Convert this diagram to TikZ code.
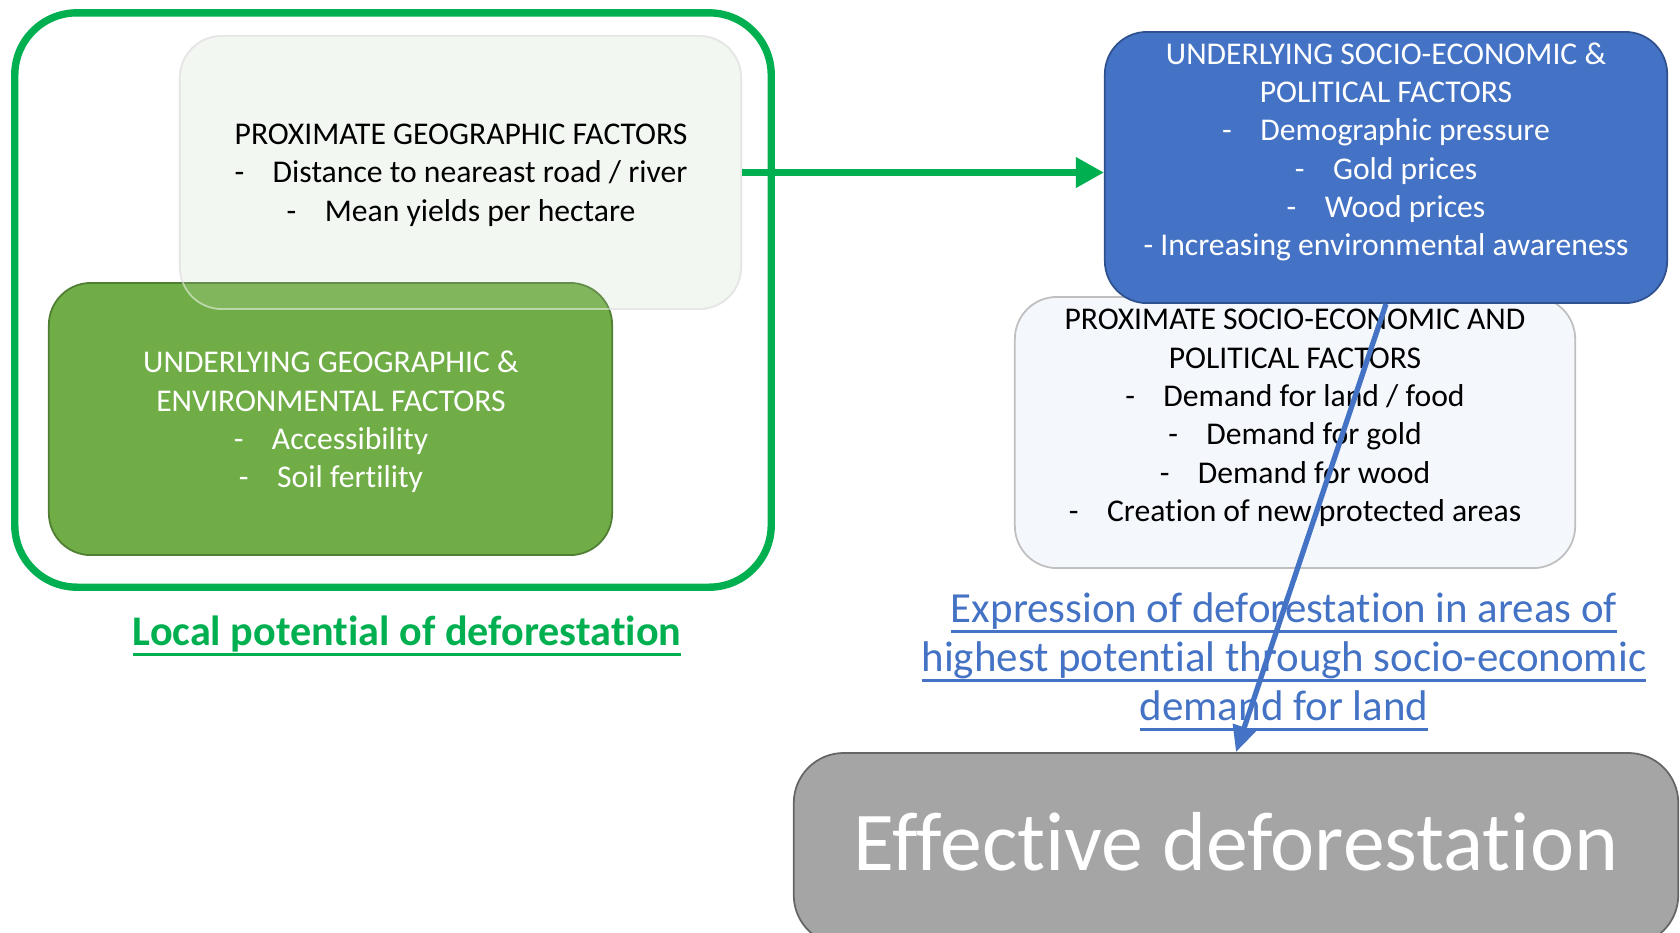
\documentclass[tikz,border=0pt]{standalone}
\usepackage{fontspec}
\setmainfont[Ligatures=NoCommon]{Carlito}
\usetikzlibrary{arrows.meta,positioning}

\definecolor{framegreen}{HTML}{00B050}
\definecolor{leafgreen}{HTML}{70AD47}
\definecolor{leafedge}{HTML}{507E32}
\definecolor{paleleaf}{HTML}{F2F6F0}
\definecolor{officeblue}{HTML}{4472C4}
\definecolor{blueedge}{HTML}{2F528F}
\definecolor{paleblue}{HTML}{F4F7FC}
\definecolor{effgray}{HTML}{A5A5A5}

% underline at a fixed depth
\newcommand{\undl}[1]{\setbox0\hbox{#1}\leavevmode\rlap{\rule[-0.25em]{\wd0}{0.07em}}\box0}

\begin{document}
\begin{tikzpicture}[
x=0.01cm, y=-0.01cm,
font=\fontsize{9}{10.9}\selectfont,
factor/.style={rounded corners=0.42cm, draw, line width=0.5pt, inner sep=0pt},
listtext/.style={align=center},
greenarrow/.style={-{Triangle[length=2.8mm,width=2.9mm]}, line width=1.9pt, draw=framegreen},
bluearrow/.style={-{Triangle[length=2.6mm,width=2.3mm]}, line width=1.5pt, draw=officeblue}
]
    % Frame of the picture
    \useasboundingbox (0,0) rectangle (1680,932);

    % Local potential (left)
    \node[factor, draw=framegreen, line width=2.1pt, rounded corners=0.62cm,
      minimum width=7.56cm, minimum height=5.74cm] (frame) at (393,300) {};
    \node[factor, draw=gray!40, fill=paleleaf,
      minimum width=5.61cm, minimum height=2.73cm] (geo) at (460.5,172.5) {};
    \node[factor, draw=leafedge, fill=leafgreen,
      minimum width=5.63cm, minimum height=2.72cm] (ugeo) at (330.5,419) {};
    % the pale box shows through over the green one
    \node[factor, draw=white, draw opacity=0.5, fill=white, fill opacity=0.12,
      minimum width=5.61cm, minimum height=2.73cm] (geoveil) at (geo) {};

    \node[listtext] (geotxt) at (461,175) {PROXIMATE GEOGRAPHIC FACTORS\\
      -\hspace{0.9em}Distance to neareast road / river\\
      -\hspace{0.9em}Mean yields per hectare};
    \node[listtext, text=white] (ugeotxt) at (331,422) {UNDERLYING GEOGRAPHIC \&\\
      ENVIRONMENTAL FACTORS\\
      -\hspace{0.9em}Accessibility\\
      -\hspace{0.9em}Soil fertility};

    \node[text=framegreen, font=\fontsize{12}{14}\selectfont\bfseries] (local) at (407,636)
      {\undl{Local potential of deforestation}};

    % Socio-economic side (right)
    \node[factor, draw=gray!50, fill=paleblue,
      minimum width=5.60cm, minimum height=2.71cm] (psoc) at (1295,432.5) {};
    \node[factor, draw=blueedge, fill=officeblue,
      minimum width=5.62cm, minimum height=2.71cm] (usoc) at (1386,167.5) {};

    \node[listtext, text=white] (usoctxt) at (1386,152) {UNDERLYING SOCIO-ECONOMIC \&\\
      POLITICAL FACTORS\\
      -\hspace{0.9em}Demographic pressure\\
      -\hspace{0.9em}Gold prices\\
      -\hspace{0.9em}Wood prices\\
      - Increasing environmental awareness};
    \node[listtext] (psoctxt) at (1295,418) {PROXIMATE SOCIO-ECONOMIC AND\\
      POLITICAL FACTORS\\
      -\hspace{0.9em}Demand for land / food\\
      -\hspace{0.9em}Demand for gold\\
      -\hspace{0.9em}Demand for wood\\
      -\hspace{0.9em}Creation of new protected areas};

    \node[listtext, text=officeblue, font=\fontsize{12.2}{13.95}\selectfont] (expr) at (1284,662)
      {\undl{Expression of deforestation in areas of}\\
       \undl{highest potential through socio-economic}\\
       \undl{demand for land}};

    % Outcome
    \node[factor, draw=gray!80!black, fill=effgray, rounded corners=0.5cm,
      minimum width=8.84cm, minimum height=1.92cm, text=white,
      font=\fontsize{23.8}{28}\selectfont] (eff) at (1236,849) {};
    \node[text=white, font=\fontsize{23.8}{28}\selectfont] (efftxt) at (1236,842) {Effective deforestation};

    % Connectors
    \draw[greenarrow] (geo.east) -- (geo.east -| usoc.west);
    \draw[bluearrow] (usoc.south) -- (eff.north);

\end{tikzpicture}
\end{document}
